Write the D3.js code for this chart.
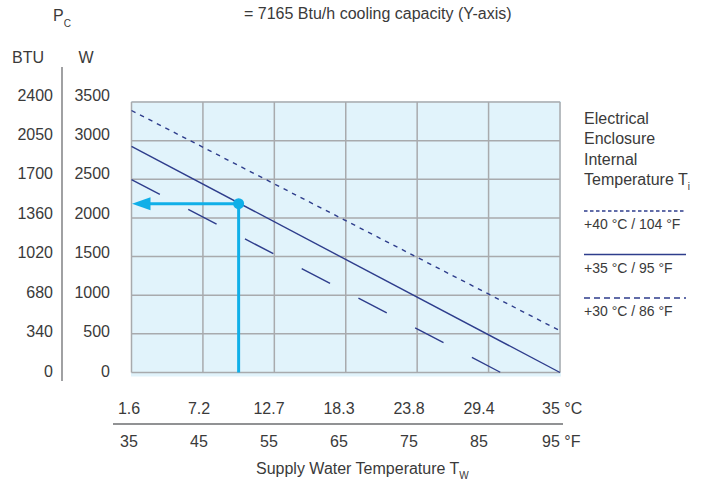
<!DOCTYPE html>
<html>
<head>
<meta charset="utf-8">
<script src="https://cdn.jsdelivr.net/npm/d3@7"></script>
<style>
  html, body { margin: 0; padding: 0; background: #fff; }
  svg { display: block; font-family: "Liberation Sans", Arial, sans-serif; }
  text { fill: #3a3a3a; }
</style>
</head>
<body>
<svg id="chart" width="704" height="483"></svg>
<script>
// ---- data ----
const tempF = [35, 45, 55, 65, 75, 85, 95];
const tempC = ["1.6", "7.2", "12.7", "18.3", "23.8", "29.4", "35"];
const wattTicks = [0, 500, 1000, 1500, 2000, 2500, 3000, 3500];
const btuTicks = [0, 340, 680, 1020, 1360, 1700, 2050, 2400];
const series40 = [[35, 3390], [95, 540]];
const series35 = [[35, 2925], [95, 0]];
const series30 = [[35, 2495], [86.7, 0]];
const examplePoint = [50, 2185];
const legendTitle = ["Electrical", "Enclosure", "Internal", "Temperature T"];
const legendLabels = ["+40 °C / 104 °F", "+35 °C / 95 °F", "+30 °C / 86 °F"];

// ---- styles ----
const navy = "#2e3d8c";
const cyan = "#10afe8";
const gridC = "#a8aaad";
const bg = "#e1f3fb";
const fs = 16;

const svg = d3.select("#chart");
const x = d3.scaleLinear().domain([35, 95]).range([131.5, 560]);
const y = d3.scaleLinear().domain([0, 3500]).range([372.5, 102]);
const xLab = d3.scaleLinear().domain([35, 95]).range([129, 549]);
const yLab = d3.scaleLinear().domain([0, 3500]).range([371, 95]);

// background
svg.append("rect")
  .attr("x", x(35) - 0.5).attr("y", y(3500) - 1)
  .attr("width", x(95) - x(35) + 1.5).attr("height", y(0) - y(3500) + 5)
  .attr("fill", bg);

// grid
svg.append("g").selectAll("line").data(tempF).join("line")
  .attr("x1", d => x(d)).attr("x2", d => x(d))
  .attr("y1", y(3500)).attr("y2", y(0))
  .attr("stroke", gridC).attr("stroke-width", 1.5);
svg.append("g").selectAll("line").data(wattTicks).join("line")
  .attr("x1", x(35)).attr("x2", x(95))
  .attr("y1", d => y(d)).attr("y2", d => y(d))
  .attr("stroke", gridC).attr("stroke-width", 1.5);

// series
const line = d3.line().x(d => x(d[0])).y(d => y(d[1]));
svg.append("path").attr("d", line(series40)).attr("fill", "none")
  .attr("stroke", navy).attr("stroke-width", 1.4).attr("stroke-dasharray", "4.5,5");
svg.append("path").attr("d", line(series35)).attr("fill", "none")
  .attr("stroke", navy).attr("stroke-width", 1.4);
svg.append("path").attr("d", line(series30)).attr("fill", "none")
  .attr("stroke", navy).attr("stroke-width", 1.4).attr("stroke-dasharray", "32,32");

// example arrow
const px = x(examplePoint[0]), py = y(examplePoint[1]);
svg.append("line").attr("x1", px).attr("x2", px).attr("y1", y(0)).attr("y2", py)
  .attr("stroke", cyan).attr("stroke-width", 3);
svg.append("line").attr("x1", px).attr("x2", x(35) + 14).attr("y1", py).attr("y2", py)
  .attr("stroke", cyan).attr("stroke-width", 3);
svg.append("path")
  .attr("d", `M${x(35) + 0.5},${py} L${x(35) + 19},${py - 6.5} L${x(35) + 19},${py + 6.5} Z`)
  .attr("fill", cyan);
svg.append("circle").attr("cx", px).attr("cy", py).attr("r", 5.5).attr("fill", cyan);

// y axis (two unit columns)
svg.append("line").attr("x1", 62).attr("x2", 62).attr("y1", 67).attr("y2", 381)
  .attr("stroke", "#6d6e71").attr("stroke-width", 1.3);
svg.append("g").selectAll("text").data(btuTicks).join("text")
  .attr("x", 53).attr("y", (d, i) => yLab(wattTicks[i]))
  .attr("dy", "0.35em").attr("text-anchor", "end")
  .attr("font-size", fs).text(d => d);
svg.append("g").selectAll("text").data(wattTicks).join("text")
  .attr("x", 110).attr("y", d => yLab(d))
  .attr("dy", "0.35em").attr("text-anchor", "end")
  .attr("font-size", fs).text(d => d);
svg.append("text").attr("x", 12).attr("y", 57).attr("dy", "0.35em")
  .attr("font-size", fs).text("BTU");
svg.append("text").attr("x", 86).attr("y", 57).attr("dy", "0.35em")
  .attr("text-anchor", "middle").attr("font-size", fs).text("W");

// P_C
const pc = svg.append("text").attr("x", 53).attr("y", 21).attr("font-size", fs);
pc.append("tspan").text("P");
pc.append("tspan").attr("font-size", 10).attr("dy", 6).text("C");

// header
svg.append("text").attr("x", 244).attr("y", 13).attr("dy", "0.35em")
  .attr("font-size", fs).text("= 7165 Btu/h cooling capacity (Y-axis)");

// x axis labels
svg.append("g").selectAll("text").data(tempC).join("text")
  .attr("x", (d, i) => xLab(tempF[i]) + (i === tempC.length - 1 ? -7 : 0))
  .attr("y", 408).attr("dy", "0.35em")
  .attr("text-anchor", (d, i) => i === tempC.length - 1 ? "start" : "middle")
  .attr("font-size", fs)
  .text((d, i) => i === tempC.length - 1 ? d + " °C" : d);
svg.append("line").attr("x1", 113).attr("x2", 563).attr("y1", 424).attr("y2", 424)
  .attr("stroke", "#6d6e71").attr("stroke-width", 1.3);
svg.append("g").selectAll("text").data(tempF).join("text")
  .attr("x", (d, i) => xLab(d) + (i === tempF.length - 1 ? -7 : 0))
  .attr("y", 441).attr("dy", "0.35em")
  .attr("text-anchor", (d, i) => i === tempF.length - 1 ? "start" : "middle")
  .attr("font-size", fs)
  .text((d, i) => i === tempF.length - 1 ? d + " °F" : d);

const xt = svg.append("text").attr("x", 256).attr("y", 468).attr("dy", "0.35em")
  .attr("font-size", fs);
xt.append("tspan").text("Supply Water Temperature T");
xt.append("tspan").attr("font-size", 10).attr("dy", 5).text("W");

// legend
const lg = svg.append("g");
lg.selectAll("text.t").data(legendTitle).join("text").attr("class", "t")
  .attr("x", 584).attr("y", (d, i) => 118 + i * 20.5).attr("dy", "0.35em")
  .attr("font-size", fs).each(function(d, i) {
    const t = d3.select(this);
    t.append("tspan").text(d);
    if (i === legendTitle.length - 1) t.append("tspan").attr("font-size", 10).attr("dy", 5).text("i");
  });
const legDash = ["3.5,2.5", null, "6,4"];
legendLabels.forEach((lab, i) => {
  const ly = 211 + i * 43.5;
  lg.append("line").attr("x1", 584).attr("x2", 686).attr("y1", ly).attr("y2", ly)
    .attr("stroke", navy).attr("stroke-width", 1.4)
    .attr("stroke-dasharray", legDash[i]);
  lg.append("text").attr("x", 584).attr("y", ly + 13.5).attr("dy", "0.35em")
    .attr("font-size", 14).text(lab);
});
</script>
</body>
</html>
